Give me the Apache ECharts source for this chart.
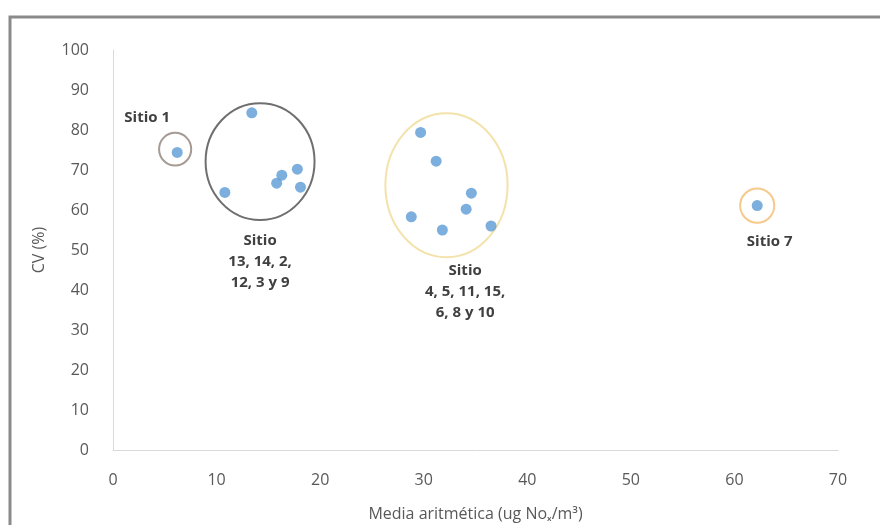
<!DOCTYPE html>
<html>
<head>
<meta charset="utf-8">
<script src="https://cdn.jsdelivr.net/npm/echarts@6/dist/echarts.min.js"></script>
<style>
html,body{margin:0;padding:0;background:#fff;}
#c{width:880px;height:525px;}
</style>
</head>
<body>
<div id="c"></div>
<script>
// Data
const mediaX = [6.2, 13.4, 10.8, 15.8, 16.3, 17.8, 18.1, 29.7, 31.2, 34.6, 34.1, 28.8, 31.8, 36.5, 62.2];
const cvY    = [74.4, 84.3, 64.4, 66.7, 68.7, 70.2, 65.7, 79.4, 72.2, 64.2, 60.2, 58.3, 55.0, 56.0, 61.1];
const xTicks = [0, 10, 20, 30, 40, 50, 60, 70];
const yTicks = [0, 10, 20, 30, 40, 50, 60, 70, 80, 90, 100];
// group ellipses: center x, center y, radius x, radius y (data units)
const ellCX = [6.0, 14.2, 32.2, 62.2];
const ellCY = [75.2, 72.1, 66.2, 61.1];
const ellRX = [1.55, 5.26, 5.9, 1.65];
const ellRY = [4.1, 14.6, 18.0, 4.3];
const ellColor = ['#a59a94', '#6f6f6f', '#f3e2a9', '#f6c98c'];
// group labels
const labelText = ['Sitio 1', 'Sitio\n13, 14, 2,\n12, 3 y 9', 'Sitio\n4, 5, 11, 15,\n6, 8 y 10', 'Sitio 7'];
const labelX = [3.3, 14.2, 34.0, 63.4];
const labelY = [83.0, 47.0, 39.5, 52.0];

const chart = echarts.init(document.getElementById('c'));
const font = 'Open Sans, Lato, sans-serif';
chart.setOption({
  animation: false,
  backgroundColor: '#fff',
  graphic: [{
    type: 'rect', z: -1,
    shape: {x: 10, y: 17, width: 900, height: 600},
    style: {fill: 'none', stroke: '#8a8a8a', lineWidth: 3}
  }],
  grid: {left: 113, right: 42, top: 50, bottom: 75, containLabel: false, outerBoundsMode: 'none'},
  xAxis: {
    type: 'value', min: 0, max: 70, interval: 10,
    name: 'Media aritmética (ug Noₓ/m³)', nameLocation: 'middle', nameGap: 56,
    nameTextStyle: {fontFamily: font, fontSize: 16, color: '#595959'},
    axisLine: {show: true, lineStyle: {color: '#d9d9d9', width: 1}},
    axisTick: {show: false},
    splitLine: {show: false},
    axisLabel: {fontFamily: font, fontSize: 16, color: '#595959', margin: 22}
  },
  yAxis: {
    type: 'value', min: 0, max: 100, interval: 10,
    name: 'CV (%)', nameLocation: 'middle', nameGap: 66, nameRotate: 90,
    nameTextStyle: {fontFamily: font, fontSize: 16, color: '#595959'},
    axisLine: {show: true, lineStyle: {color: '#d9d9d9', width: 1}},
    axisTick: {show: false},
    splitLine: {show: false},
    axisLabel: {fontFamily: font, fontSize: 16, color: '#595959', margin: 24}
  },
  series: [
    {
      type: 'custom',
      coordinateSystem: 'cartesian2d',
      silent: true,
      data: ellCX.map((v, i) => [v, ellCY[i], ellRX[i], ellRY[i], i]),
      renderItem: function (params, api) {
        const c = api.coord([api.value(0), api.value(1)]);
        const s = api.size([api.value(2), api.value(3)]);
        const i = api.value(4);
        return {
          type: 'ellipse',
          shape: {cx: c[0], cy: c[1], rx: s[0], ry: s[1]},
          style: {fill: 'none', stroke: ellColor[i], lineWidth: 2}
        };
      },
      z: 1
    },
    {
      type: 'scatter',
      data: mediaX.map((v, i) => [v, cvY[i]]),
      symbolSize: 11,
      itemStyle: {color: '#5b9bd5'},
      z: 3
    },
    {
      type: 'custom',
      coordinateSystem: 'cartesian2d',
      silent: true,
      data: labelX.map((v, i) => [v, labelY[i], i]),
      renderItem: function (params, api) {
        const c = api.coord([api.value(0), api.value(1)]);
        const i = api.value(2);
        return {
          type: 'text',
          x: c[0], y: c[1],
          style: {
            text: labelText[i],
            fontFamily: font, fontSize: 15, fontWeight: 'bold', fill: '#404040',
            lineHeight: 21, align: 'center', verticalAlign: 'middle'
          }
        };
      },
      z: 4
    }
  ]
});
</script>
</body>
</html>
